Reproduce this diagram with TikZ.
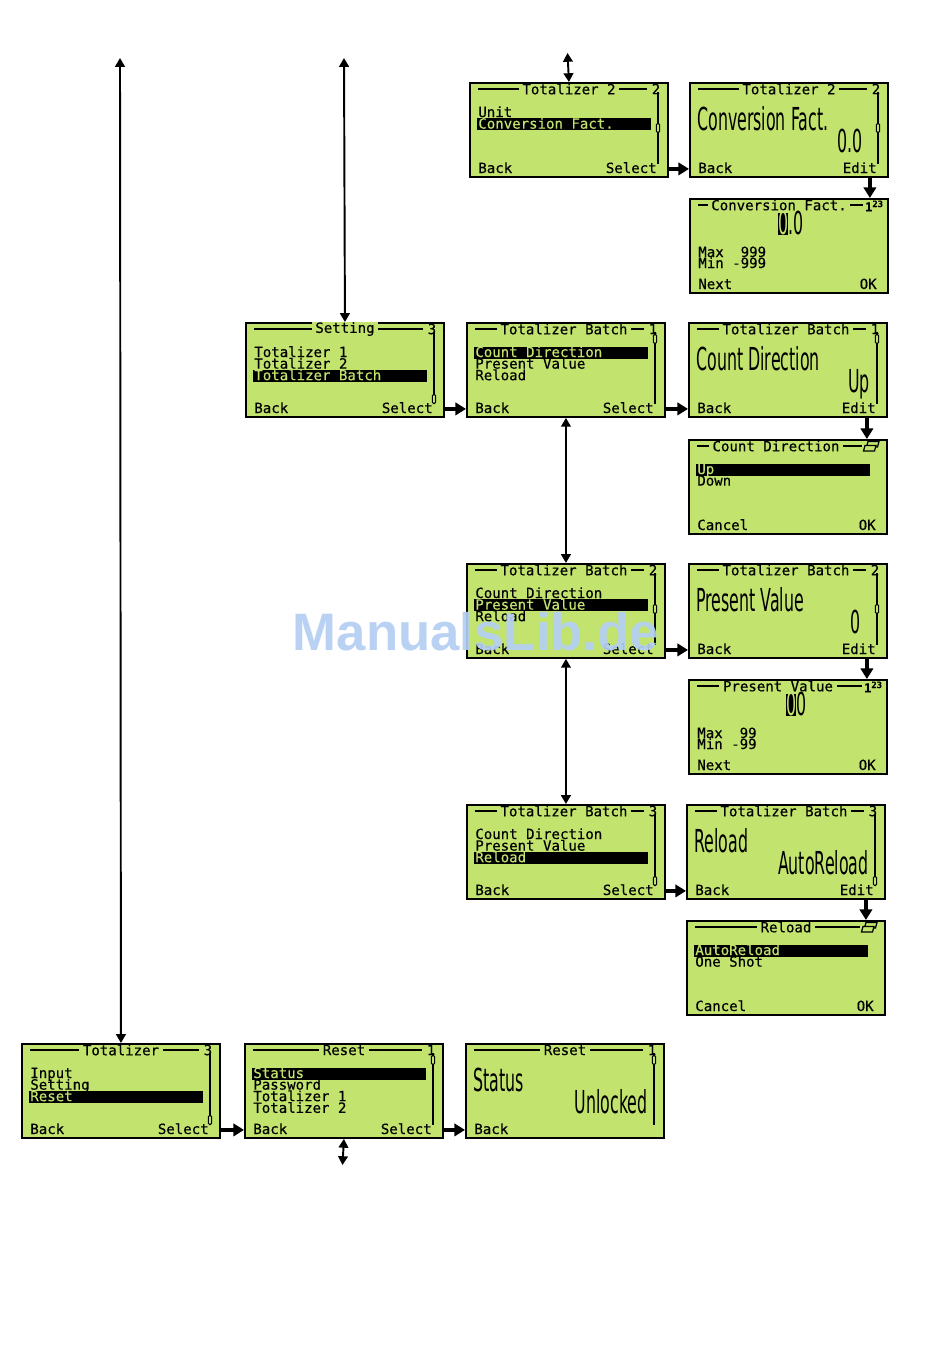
\documentclass[tikz,border=0pt]{standalone}
\usepackage{fontspec}
\usepackage{tikz}
\usetikzlibrary{arrows.meta}
\newfontfamily\lcdfont[FakeBold=0.4]{DejaVu Sans Mono}
\newfontfamily\lcdbigfont{DejaVu Sans}
\newfontfamily\wmfont{Liberation Sans}
\definecolor{lcdc}{RGB}{194,227,110}
\definecolor{wmc}{RGB}{180,207,244}

\tikzset{
  lcd/.style={draw=black,line width=1.1pt,fill=lcdc,minimum width=3.96cm,
    minimum height=1.88cm,inner sep=0pt,anchor=north west},
  sm/.style={font=\lcdfont\fontsize{8}{9}\selectfont,inner sep=0pt},
  big/.style={font=\lcdbigfont\fontsize{18}{20}\selectfont,inner sep=0pt},
}

% one screen: name, left, top, contents (local px, y down)
\newcommand\lcdscr[4]{\begin{scope}[shift={(#2,#3)}]
  \node[lcd] (#1) at (0,0) {};
  #4
\end{scope}}
% title line with page number
\newcommand\lcdtitle[3]{%
  \draw[line width=0.7pt] (9,7) -- (178,7);
  \node[sm,fill=lcdc,inner xsep=2pt] at (#1,7) {#2};
  \node[sm,fill=lcdc,inner xsep=2pt] at (187,7) {#3};}
% title line with icon
\newcommand\lcdtitlei[3]{%
  \draw[line width=0.7pt] (9,7) -- (174,7);
  \node[sm,fill=lcdc,inner xsep=2pt] at (#1,7) {#2};
  #3}
\newcommand\selicon{%
  \draw[line width=0.7pt] (180,2.5) -- (191,2.5) -- (189.5,8) -- (178.5,8) -- cycle;
  \draw[line width=0.7pt,fill=lcdc] (177,6.5) -- (188,6.5) -- (186.5,12) -- (175.5,12) -- cycle;}
\newcommand\numicon{%
  \node[font=\lcdfont\bfseries\fontsize{7}{7}\selectfont,inner sep=0pt] at (185,8)
    {1\raisebox{2.5pt}{\fontsize{5}{5}\selectfont 23}};}
\newcommand\lcditem[2]{\node[sm,anchor=base west] at (9,{35+11.6*(#1-1)}) {#2};}
\newcommand\lcdhi[2]{%
  \fill[black] (8,{24.5+11.6*(#1-1)}) rectangle (182,{36.5+11.6*(#1-1)});
  \node[sm,anchor=base west,text=lcdc] at (9,{35+11.6*(#1-1)}) {#2};}
\newcommand\lcdkeys[2]{%
  \node[sm,anchor=base west] at (9,91) {#1};
  \node[sm,anchor=base east] at (188,91) {#2};}
\newcommand\lcdbar[1]{%
  \draw[line width=0.9pt] (189,10) -- (189,82);
  \draw[line width=0.6pt,fill=lcdc,rounded corners=0.8pt] (187.3,{#1-4.5}) rectangle (190.7,{#1+4.5});}
\newcommand\lcdlabel[1]{\node[big,anchor=base west] at (8,48) {\scalebox{0.5}[1]{#1}};}
\newcommand\lcdvalue[2]{\node[big,anchor=base east] at (#1,70) {\scalebox{0.5}[1]{#2}};}
\newcommand\lcdcursor[3]{% left, first digit, rest
  \fill[black] (#1,15) rectangle ({#1+10},37);
  \node[big,anchor=base west] at (#1,36) {\scalebox{0.5}[1]{\textcolor{lcdc}{#2}#3}};}
\newcommand\lcdlimits[2]{%
  \node[sm,anchor=base west] at (9,59) {#1};
  \node[sm,anchor=base west] at (9,70) {#2};}

\begin{document}
\begin{tikzpicture}[x=0.02cm,y=-0.02cm,
  harr/.style={line width=2.2pt,-{Triangle[length=6pt,width=7pt]}},
  dbl/.style={line width=1.1pt,{Triangle[length=5pt,width=5.5pt]}-{Triangle[length=5pt,width=5.5pt]}}]
  \fill[white] (0,0) rectangle (950,1369);
  \useasboundingbox (0,0) rectangle (950,1369);

  % Totalizer 2
  \lcdscr{tl2}{469}{82}{\lcdtitle{100}{Totalizer 2}{2}
    \lcditem{1}{Unit}\lcdhi{2}{Conversion Fact.}
    \lcdkeys{Back}{Select}\lcdbar{46}}
  \lcdscr{te2}{689}{82}{\lcdtitle{100}{Totalizer 2}{2}
    \lcdlabel{Conversion Fact.}\lcdvalue{174}{0.0}
    \lcdkeys{Back}{Edit}\lcdbar{46}}
  \lcdscr{cf}{689}{198}{\lcdtitlei{90}{Conversion Fact.}{\numicon}
    \lcdcursor{89}{0}{.0}\lcdlimits{Max~~999}{Min~-999}
    \lcdkeys{Next}{OK}}

  % Setting / Totalizer Batch
  \lcdscr{set}{245}{322}{\lcdtitle{100}{Setting}{3}
    \lcditem{1}{Totalizer 1}\lcditem{2}{Totalizer 2}\lcdhi{3}{Totalizer Batch}
    \lcdkeys{Back}{Select}\lcdbar{77}}
  \lcdscr{tb1}{466}{322}{\lcdtitle{98}{Totalizer Batch}{1}
    \lcdhi{1}{Count Direction}\lcditem{2}{Present Value}\lcditem{3}{Reload}
    \lcdkeys{Back}{Select}\lcdbar{17}}
  \lcdscr{tb1e}{688}{322}{\lcdtitle{98}{Totalizer Batch}{1}
    \lcdlabel{Count Direction}\lcdvalue{182}{Up}
    \lcdkeys{Back}{Edit}\lcdbar{17}}
  \lcdscr{cd}{688}{439}{\lcdtitlei{88}{Count Direction}{\selicon}
    \lcdhi{1}{Up}\lcditem{2}{Down}
    \lcdkeys{Cancel}{OK}}
  \lcdscr{tb2}{466}{563}{\lcdtitle{98}{Totalizer Batch}{2}
    \lcditem{1}{Count Direction}\lcdhi{2}{Present Value}\lcditem{3}{Reload}
    \lcdkeys{Back}{Select}\lcdbar{46}}
  \lcdscr{tb2e}{688}{563}{\lcdtitle{98}{Totalizer Batch}{2}
    \lcdlabel{Present Value}\lcdvalue{173}{0}
    \lcdkeys{Back}{Edit}\lcdbar{46}}
  \lcdscr{pv}{688}{679}{\lcdtitlei{90}{Present Value}{\numicon}
    \lcdcursor{98}{0}{0}\lcdlimits{Max~~99}{Min~-99}
    \lcdkeys{Next}{OK}}
  \lcdscr{tb3}{466}{804}{\lcdtitle{98}{Totalizer Batch}{3}
    \lcditem{1}{Count Direction}\lcditem{2}{Present Value}\lcdhi{3}{Reload}
    \lcdkeys{Back}{Select}\lcdbar{77}}
  \lcdscr{tb3e}{686}{804}{\lcdtitle{98}{Totalizer Batch}{3}
    \lcdlabel{Reload}\lcdvalue{183}{AutoReload}
    \lcdkeys{Back}{Edit}\lcdbar{77}}
  \lcdscr{rl}{686}{920}{\lcdtitlei{100}{Reload}{\selicon}
    \lcdhi{1}{AutoReload}\lcditem{2}{One Shot}
    \lcdkeys{Cancel}{OK}}

  % Totalizer / Reset
  \lcdscr{tot}{21}{1043}{\lcdtitle{100}{Totalizer}{3}
    \lcditem{1}{Input}\lcditem{2}{Setting}\lcdhi{3}{Reset}
    \lcdkeys{Back}{Select}\lcdbar{77}}
  \lcdscr{rst}{244}{1043}{\lcdtitle{100}{Reset}{1}
    \lcdhi{1}{Status}\lcditem{2}{Password}\lcditem{3}{Totalizer 1}\lcditem{4}{Totalizer 2}
    \lcdkeys{Back}{Select}\lcdbar{17}}
  \lcdscr{rste}{465}{1043}{\lcdtitle{100}{Reset}{1}
    \lcdlabel{Status}\lcdvalue{183}{Unlocked}
    \lcdkeys{Back}{}\lcdbar{17}}

  % forward arrows
  \draw[harr] ([shift={(0,-9)}]tl2.south east) -- ([shift={(0,-9)}]te2.south west);
  \draw[harr] ([shift={(-19,0)}]te2.south east) -- ([shift={(-19,0)}]cf.north east);
  \draw[harr] ([shift={(0,-9)}]set.south east) -- ([shift={(0,-9)}]tb1.south west);
  \draw[harr] ([shift={(0,-9)}]tb1.south east) -- ([shift={(0,-9)}]tb1e.south west);
  \draw[harr] ([shift={(-21,0)}]tb1e.south east) -- ([shift={(-21,0)}]cd.north east);
  \draw[harr] ([shift={(0,-9)}]tb2.south east) -- ([shift={(0,-9)}]tb2e.south west);
  \draw[harr] ([shift={(-21,0)}]tb2e.south east) -- ([shift={(-21,0)}]pv.north east);
  \draw[harr] ([shift={(0,-9)}]tb3.south east) -- ([shift={(0,-9)}]tb3e.south west);
  \draw[harr] ([shift={(-20,0)}]tb3e.south east) -- ([shift={(-20,0)}]rl.north east);
  \draw[harr] ([shift={(0,-9)}]tot.south east) -- ([shift={(0,-9)}]rst.south west);
  \draw[harr] ([shift={(0,-9)}]rst.south east) -- ([shift={(0,-9)}]rste.south west);

  % up/down scrolling
  \coordinate (up1) at (120,58);
  \coordinate (up2) at (344,58);
  \coordinate (up3) at (567.5,53);
  \coordinate (dn1) at (342.5,1165);
  \draw[dbl] (up1) -- (tot.north);
  \draw[dbl] (up2) -- (set.north);
  \draw[dbl] (up3) -- (tl2.north);
  \draw[dbl] (tb1.south) -- (tb2.north);
  \draw[dbl] (tb2.south) -- (tb3.north);
  \draw[dbl] (rst.south) -- (dn1);

  % watermark
  \node[font=\wmfont\bfseries\fontsize{30}{30}\selectfont,text=wmc,opacity=0.92,inner sep=0pt]
    (wm) at (476,632) {ManualsLib.de};
\end{tikzpicture}
\end{document}
